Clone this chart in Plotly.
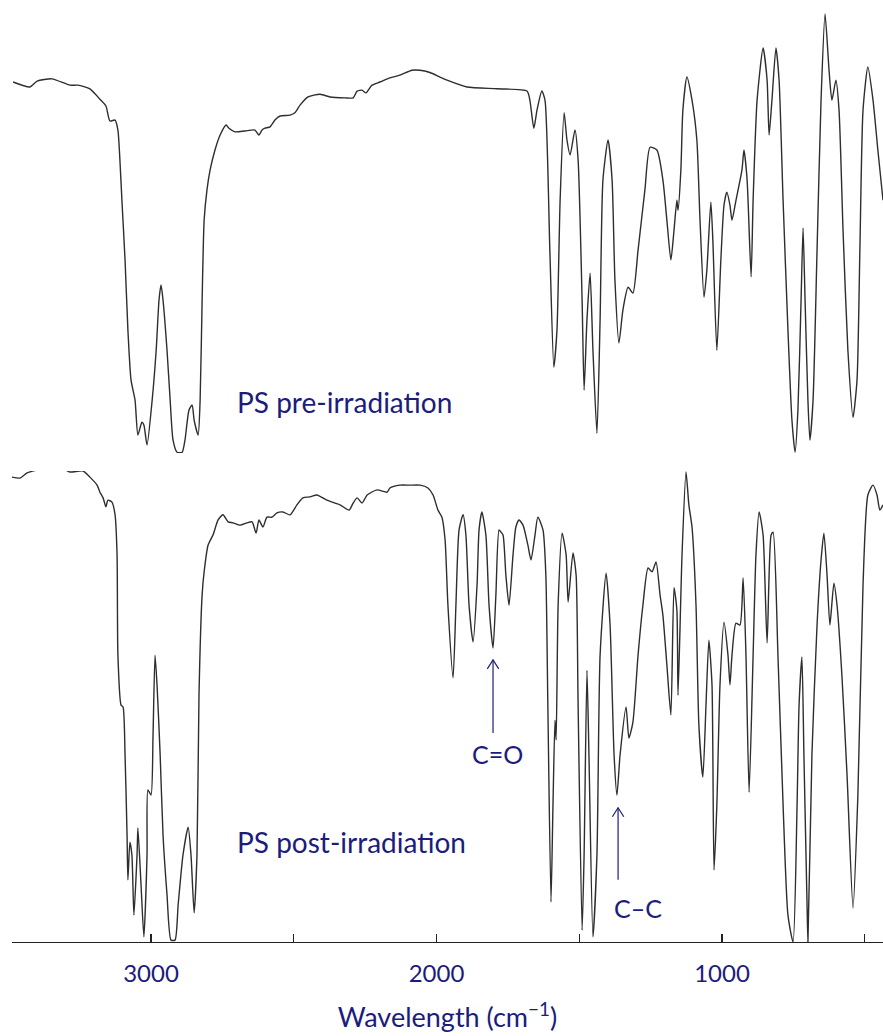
import plotly.graph_objects as go

# ---------------- data ----------------
pre_wn = [3483, 3424, 3399, 3347, 3284, 3256, 3214, 3179, 3158, 3144, 3126, 3116, 3109, 3102, 3091, 3081,
          3070, 3056, 3046, 3032, 3025, 3014, 2996, 2982, 2972, 2965, 2958, 2944, 2933, 2923, 2909, 2891,
          2881, 2867, 2856, 2849, 2835, 2828, 2821, 2814, 2804, 2793, 2776, 2758, 2737, 2727, 2706, 2671,
          2636, 2622, 2611, 2601, 2583, 2566, 2548, 2513, 2496, 2478, 2450, 2408, 2373, 2320, 2292, 2278,
          2261, 2247, 2226, 2198, 2163, 2128, 2086, 2058, 2023, 1988, 1963, 1893, 1788, 1683, 1673, 1659,
          1648, 1631, 1620, 1603, 1589, 1578, 1567, 1553, 1543, 1532, 1515, 1504, 1490, 1483, 1473, 1462,
          1452, 1438, 1427, 1417, 1399, 1385, 1375, 1361, 1347, 1329, 1312, 1294, 1270, 1252, 1228, 1207,
          1193, 1179, 1168, 1158, 1154, 1144, 1137, 1123, 1105, 1088, 1077, 1063, 1053, 1039, 1032, 1018,
          1004, 993, 983, 972, 965, 951, 930, 923, 912, 898, 891, 877, 856, 842, 835, 825,
          811, 800, 786, 769, 755, 744, 734, 723, 716, 709, 699, 692, 681, 667, 653, 639,
          625, 615, 601, 590, 576, 559, 541, 527, 517, 506, 489, 471, 454, 436]
pre_T = [81.9, 80.8, 82.1, 82.6, 81.2, 81.2, 80.4, 78.1, 76.6, 73.3, 73.5, 71.3, 64.7, 55.8, 42.6, 27.2,
         16.1, 11.7, 4.0, 6.8, 6.2, 1.8, 11.7, 22.7, 33.8, 37.1, 33.8, 22.7, 11.7, 2.9, 0.2, 0.2,
         2.9, 9.5, 10.6, 7.3, 4.0, 11.7, 33.8, 51.4, 58.1, 62.5, 66.9, 70.2, 72.4, 71.7, 70.9, 71.1,
         71.3, 70.2, 71.3, 71.7, 72.0, 73.5, 74.4, 74.6, 75.1, 76.8, 78.6, 79.2, 78.6, 78.4, 78.4, 79.9,
         80.1, 79.5, 81.2, 81.9, 82.8, 83.4, 84.5, 84.5, 84.0, 83.0, 82.3, 80.8, 80.4, 79.9, 77.9, 71.7,
         75.7, 79.9, 77.9, 44.8, 19.0, 27.2, 55.8, 75.1, 69.1, 65.8, 71.3, 64.7, 33.8, 13.9, 29.4, 39.7,
         22.7, 4.4, 29.4, 60.3, 69.1, 60.3, 38.2, 24.3, 31.6, 36.6, 35.3, 44.8, 58.1, 67.5, 66.9, 60.3,
         51.4, 42.6, 49.2, 55.8, 53.6, 62.5, 75.7, 83.0, 77.9, 69.1, 51.4, 34.4, 40.4, 55.4, 47.0, 22.7,
         42.6, 54.7, 57.6, 54.7, 51.4, 55.8, 62.5, 66.9, 60.3, 38.9, 55.8, 77.9, 89.4, 82.3, 70.2, 77.9,
         89.4, 82.3, 55.8, 27.2, 7.3, 0.2, 9.5, 33.8, 49.7, 33.8, 11.7, 2.9, 11.7, 44.8, 77.9, 96.9,
         84.5, 77.9, 82.3, 75.7, 49.2, 22.7, 7.9, 16.1, 44.8, 75.7, 85.2, 77.9, 66.9, 55.8]

post_wn = [3487, 3459, 3434, 3399, 3354, 3312, 3284, 3238, 3214, 3189, 3179, 3168, 3158, 3151, 3137, 3126,
           3119, 3116, 3105, 3098, 3091, 3084, 3081, 3074, 3067, 3060, 3049, 3046, 3035, 3025, 3014, 3011,
           3000, 2993, 2986, 2979, 2968, 2958, 2944, 2930, 2916, 2905, 2888, 2870, 2860, 2849, 2839, 2832,
           2821, 2814, 2800, 2783, 2765, 2748, 2730, 2713, 2688, 2664, 2646, 2632, 2622, 2608, 2594, 2576,
           2559, 2538, 2513, 2489, 2468, 2443, 2419, 2384, 2338, 2306, 2292, 2278, 2261, 2243, 2208, 2173,
           2163, 2128, 2093, 2058, 2030, 2012, 1995, 1981, 1970, 1960, 1942, 1932, 1921, 1907, 1897, 1886,
           1872, 1858, 1851, 1841, 1827, 1816, 1802, 1792, 1781, 1774, 1767, 1757, 1746, 1732, 1722, 1711,
           1697, 1680, 1669, 1655, 1645, 1627, 1617, 1610, 1599, 1592, 1585, 1581, 1574, 1560, 1546, 1539,
           1522, 1511, 1504, 1490, 1483, 1473, 1466, 1452, 1438, 1427, 1406, 1392, 1378, 1368, 1357, 1336,
           1326, 1312, 1294, 1277, 1259, 1245, 1231, 1217, 1207, 1193, 1179, 1168, 1158, 1154, 1140, 1126,
           1116, 1105, 1091, 1081, 1067, 1056, 1046, 1035, 1028, 1018, 1007, 993, 979, 972, 965, 951,
           937, 926, 916, 905, 891, 881, 870, 856, 842, 828, 821, 804, 786, 769, 751, 737,
           730, 720, 713, 702, 699, 685, 667, 653, 643, 632, 622, 608, 597, 580, 562, 541,
           524, 506, 489, 471, 457, 447, 436]
post_T = [98.7, 98.5, 99.6, 100.2, 100.8, 100.6, 99.8, 100.0, 98.7, 97.0, 95.5, 94.3, 92.4, 93.8, 93.4, 90.7,
          82.2, 60.9, 50.3, 49.9, 39.7, 22.7, 13.2, 21.2, 18.5, 5.7, 18.5, 24.2, 12.1, 1.1, 18.5, 32.3,
          31.2, 43.9, 60.9, 54.6, 39.7, 22.7, 10.0, 0.4, 0.4, 7.9, 18.5, 24.4, 18.5, 6.2, 18.5, 52.4,
          73.7, 78.6, 84.3, 86.4, 89.6, 90.7, 89.2, 89.0, 88.5, 89.0, 89.2, 86.8, 89.6, 88.1, 90.2, 90.2,
          91.1, 91.3, 90.7, 92.8, 94.3, 94.5, 94.9, 93.8, 92.8, 91.7, 93.2, 94.3, 93.2, 94.9, 96.0, 95.5,
          96.4, 97.0, 97.0, 97.0, 96.4, 94.9, 91.7, 90.2, 85.4, 71.5, 56.1, 71.5, 87.5, 90.7, 86.4, 71.5,
          63.7, 75.8, 87.5, 91.3, 86.4, 71.5, 62.4, 73.7, 87.5, 87.0, 86.4, 77.9, 71.5, 82.2, 88.1, 89.6,
          88.5, 84.3, 81.1, 86.4, 90.2, 87.5, 77.9, 50.3, 8.5, 29.1, 47.1, 42.9, 71.5, 86.8, 82.2, 72.2,
          82.6, 77.9, 50.3, 2.5, 18.5, 57.7, 39.7, 1.1, 18.5, 60.9, 78.3, 67.3, 39.7, 31.2, 39.7, 49.9,
          43.3, 46.7, 60.9, 71.5, 79.4, 78.6, 80.7, 73.7, 69.4, 58.8, 48.2, 75.2, 70.5, 52.4, 82.2, 99.8,
          92.8, 88.1, 71.5, 46.1, 35.0, 50.3, 64.1, 54.6, 15.3, 29.1, 54.6, 67.9, 60.9, 54.6, 60.9, 67.7,
          67.3, 77.3, 60.9, 31.8, 60.9, 82.2, 91.3, 86.4, 63.5, 86.4, 87.0, 60.9, 29.1, 5.7, 0.0, 29.1,
          50.3, 60.5, 39.7, 7.9, 0.0, 39.7, 67.3, 81.1, 86.8, 77.9, 67.3, 76.2, 71.5, 56.7, 35.5, 7.2,
          31.2, 75.8, 94.9, 97.0, 94.9, 91.7, 92.8]

major_ticks = [3000, 2000, 1000]
major_labels = ["3000", "2000", "1000"]
minor_step = 500

labels = {"pre": "PS pre-irradiation", "post": "PS post-irradiation"}
peak_labels = [
    # text, arrow wavenumber, arrow head T, arrow tail T, label wn, label T
    ("C=O", 1802, 59.9, 44.4, 1788, 40.0),
    ("C\u2013C", 1364, 28.5, 13.2, 1294, 7.2),
]

NAVY = "#1c1c7c"
LINE = "#2e2e2e"
FONT = "Lato, 'Open Sans', sans-serif"

fig = go.Figure()
fig.add_trace(go.Scatter(x=pre_wn, y=pre_T, mode="lines", yaxis="y2",
                         line=dict(color=LINE, width=1.4, shape="spline", smoothing=0.6),
                         hoverinfo="skip"))
fig.add_trace(go.Scatter(x=post_wn, y=post_T, mode="lines", yaxis="y",
                         line=dict(color=LINE, width=1.4, shape="spline", smoothing=0.6),
                         hoverinfo="skip"))

ann = [
    dict(x=2706, y=11.3, xref="x", yref="y2", text=labels["pre"], showarrow=False,
         xanchor="left", yanchor="middle", font=dict(size=28, color=NAVY, family=FONT)),
    dict(x=2706, y=21.2, xref="x", yref="y", text=labels["post"], showarrow=False,
         xanchor="left", yanchor="middle", font=dict(size=28, color=NAVY, family=FONT)),
]
shapes = []
for txt, awn, head, tail, lwn, lT in peak_labels:
    ann.append(dict(x=lwn, y=lT, xref="x", yref="y", text=txt, showarrow=False,
                    xanchor="center", yanchor="middle", font=dict(size=25, color=NAVY, family=FONT)))
    shapes.append(dict(type="line", xref="x", yref="y", x0=awn, x1=awn, y0=tail, y1=head,
                       line=dict(color=NAVY, width=1.2)))
    shapes.append(dict(type="path", xref="x", yref="y",
                       path=f"M {awn + 20},{head - 1.9} L {awn},{head} L {awn - 20},{head - 1.9}",
                       line=dict(color=NAVY, width=1.2)))

fig.update_layout(
    width=883, height=1036,
    margin=dict(l=12, r=0, t=0, b=94, autoexpand=False),
    paper_bgcolor="white", plot_bgcolor="white",
    showlegend=False,
    xaxis=dict(range=[3487, 436], showgrid=False, zeroline=False, automargin=False,
               showline=True, linecolor="#222", linewidth=1.3,
               ticks="inside", ticklen=8, tickcolor="#222", tickwidth=1.3,
               tickvals=major_ticks, ticktext=major_labels, ticklabelstandoff=10,
               minor=dict(dtick=minor_step, tick0=0, ticks="inside", ticklen=8,
                          tickcolor="#222", tickwidth=1.3, showgrid=False),
               tickfont=dict(size=24, color=NAVY, family=FONT),
               title=dict(text="Wavelength (cm<sup>\u22121</sup>)", standoff=22,
                          font=dict(size=27, color=NAVY, family=FONT))),
    yaxis=dict(domain=[0, 0.5], range=[0, 100], visible=False, fixedrange=True),
    yaxis2=dict(domain=[0.519, 1.0], range=[0, 100], visible=False, fixedrange=True),
    annotations=ann, shapes=shapes,
)

fig.write_html("out.html", config={"displayModeBar": False, "staticPlot": True},
               post_script="document.body.style.margin='0';document.body.style.padding='0';")
